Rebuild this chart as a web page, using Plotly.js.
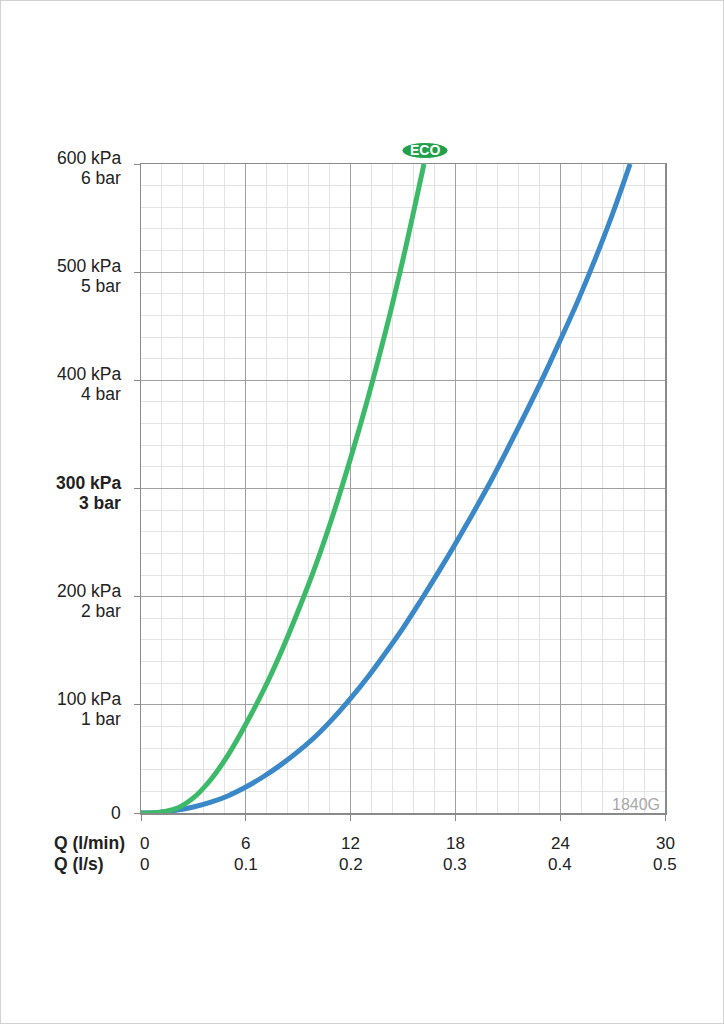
<!DOCTYPE html>
<html>
<head>
<meta charset="utf-8">
<script src="https://cdn.plot.ly/plotly-3.0.1.min.js"></script>
<style>
html,body{margin:0;padding:0;background:#fff;}
#wrap{position:relative;width:724px;height:1024px;}
#frame{position:absolute;left:0;top:0;width:722px;height:1022px;border:1px solid #d2d2d2;pointer-events:none;}
</style>
</head>
<body>
<div id="wrap"><div id="chart" style="width:724px;height:1024px;"></div><div id="frame"></div></div>
<script>
// Flow (l/min) and pressure (kPa)
const ecoFlow = [0, 1, 2, 3, 4, 5, 6, 7, 8, 9, 10, 11, 12, 13, 14, 15, 16, 16.2];
const ecoPressure = [0, 0.5, 4, 14, 31, 54, 82, 113, 148, 187, 229, 276, 328, 384, 445, 512, 585, 600];
const stdFlow = [0, 1, 2, 3, 4, 5, 6, 7, 8, 9, 10, 11, 12, 13, 14, 15, 16, 17, 18, 19, 20, 21, 22, 23, 24, 25, 26, 27, 28];
const stdPressure = [0, 0.5, 2.5, 5.5, 10, 16, 24, 33.5, 44.5, 57, 71, 87.5, 106, 126, 148, 171, 196, 222, 249, 277, 306, 337, 369, 402, 437, 473, 512, 554, 600];

const xTickVals = [0, 6, 12, 18, 24, 30];
const xTickLpm = ['0', '6', '12', '18', '24', '30'];
const xTickLps = ['0', '0.1', '0.2', '0.3', '0.4', '0.5'];
const yTickVals = [0, 100, 200, 300, 400, 500, 600];
const yTickKpa = ['0', '100 kPa', '200 kPa', '300 kPa', '400 kPa', '500 kPa', '600 kPa'];
const yTickBar = ['', '1 bar', '2 bar', '3 bar', '4 bar', '5 bar', '6 bar'];
const yTickBold = [false, false, false, true, false, false, false];
const rowLabels = ['Q (l/min)', 'Q (l/s)'];
const ecoLabel = 'ECO';
const modelLabel = '1840G';

const W = 724, H = 1024;
const L = 141, R = 665, T = 164, B = 813;
const pw = R - L, ph = B - T;
const px = v => (v - L) / pw;
const py = v => (B - v) / ph;

const FAM = '"Liberation Sans", Arial, Helvetica, sans-serif';
const xFont = {family: FAM, size: 17, color: '#222'};
const yFont = {family: FAM, size: 17.5, color: '#222'};

const traces = [
  {x: stdFlow, y: stdPressure, mode: 'lines', line: {color: '#3a88c8', width: 5, shape: 'spline', smoothing: 1}, hoverinfo: 'skip'},
  {x: ecoFlow, y: ecoPressure, mode: 'lines', line: {color: '#3dba69', width: 5, shape: 'spline', smoothing: 1}, hoverinfo: 'skip'}
];

const annotations = [];
// x tick labels: two rows
xTickVals.forEach((v, i) => {
  const sh = i === 0 ? 3 : 0;
  annotations.push({xref: 'x', yref: 'paper', x: v, xshift: sh, y: py(843), xanchor: 'center', yanchor: 'middle', showarrow: false,
    text: xTickLpm[i], font: xFont});
  annotations.push({xref: 'x', yref: 'paper', x: v, xshift: sh, y: py(864), xanchor: 'center', yanchor: 'middle', showarrow: false,
    text: xTickLps[i], font: xFont});
});
// y tick labels: kPa above, bar below
yTickVals.forEach((v, i) => {
  const b = s => yTickBold[i] ? '<b>' + s + '</b>' : s;
  if (yTickBar[i] === '') {
    annotations.push({xref: 'paper', yref: 'y', x: px(123), y: v, xanchor: 'right', yanchor: 'middle', showarrow: false,
      text: b(yTickKpa[i]), font: yFont});
  } else {
    annotations.push({xref: 'paper', yref: 'y', x: px(123), y: v, yshift: 6, xanchor: 'right', yanchor: 'middle', showarrow: false,
      text: b(yTickKpa[i]), font: yFont});
    annotations.push({xref: 'paper', yref: 'y', x: px(123), y: v, yshift: -14, xanchor: 'right', yanchor: 'middle', showarrow: false,
      text: b(yTickBar[i]), font: yFont});
  }
});
annotations.push(
  {xref: 'paper', yref: 'paper', x: px(52), y: py(843), xanchor: 'left', yanchor: 'middle', showarrow: false,
   text: '<b>' + rowLabels[0] + '</b>', font: {family: FAM, size: 17.5, color: '#222'}},
  {xref: 'paper', yref: 'paper', x: px(52), y: py(864), xanchor: 'left', yanchor: 'middle', showarrow: false,
   text: '<b>' + rowLabels[1] + '</b>', font: {family: FAM, size: 17.5, color: '#222'}},
  {xref: 'paper', yref: 'paper', x: px(425), y: py(150.5), xanchor: 'center', yanchor: 'middle', showarrow: false,
   text: '<b>' + ecoLabel + '</b>', font: {family: FAM, size: 14, color: '#ffffff'}},
  {xref: 'paper', yref: 'paper', x: px(662), y: py(804), xanchor: 'right', yanchor: 'middle', showarrow: false,
   text: modelLabel, font: {family: FAM, size: 16, color: '#a8a8a8'}}
);

const layout = {
  width: W, height: H,
  margin: {l: L, r: W - R, t: T, b: H - B, pad: 0},
  paper_bgcolor: '#fff', plot_bgcolor: '#fff',
  showlegend: false, hovermode: false,
  xaxis: {
    range: [0, 30], fixedrange: true,
    tickvals: xTickVals, showticklabels: false,
    ticks: 'outside', ticklen: 6, tickcolor: '#8a8a8a', tickwidth: 1,
    showgrid: true, gridcolor: '#a0a0a0', gridwidth: 1,
    minor: {dtick: 1.2, tick0: 0, showgrid: true, gridcolor: '#e3e3e3', gridwidth: 1},
    showline: true, linecolor: '#8a8a8a', linewidth: 1.5, mirror: true,
    zeroline: false
  },
  yaxis: {
    range: [0, 600], fixedrange: true,
    tickvals: yTickVals, showticklabels: false,
    ticks: 'outside', ticklen: 6, tickcolor: '#8a8a8a', tickwidth: 1,
    showgrid: true, gridcolor: '#a0a0a0', gridwidth: 1,
    minor: {dtick: 20, tick0: 0, showgrid: true, gridcolor: '#e3e3e3', gridwidth: 1},
    showline: true, linecolor: '#8a8a8a', linewidth: 1.5, mirror: true,
    zeroline: false
  },
  shapes: [
    {type: 'circle', xref: 'paper', yref: 'paper', x0: px(402), x1: px(448), y0: py(158.5), y1: py(142.5),
     fillcolor: '#21a04b', line: {color: '#ffffff', width: 1}, layer: 'above'}
  ],
  annotations: annotations
};

Plotly.newPlot('chart', traces, layout, {staticPlot: true, displayModeBar: false});
</script>
</body>
</html>
